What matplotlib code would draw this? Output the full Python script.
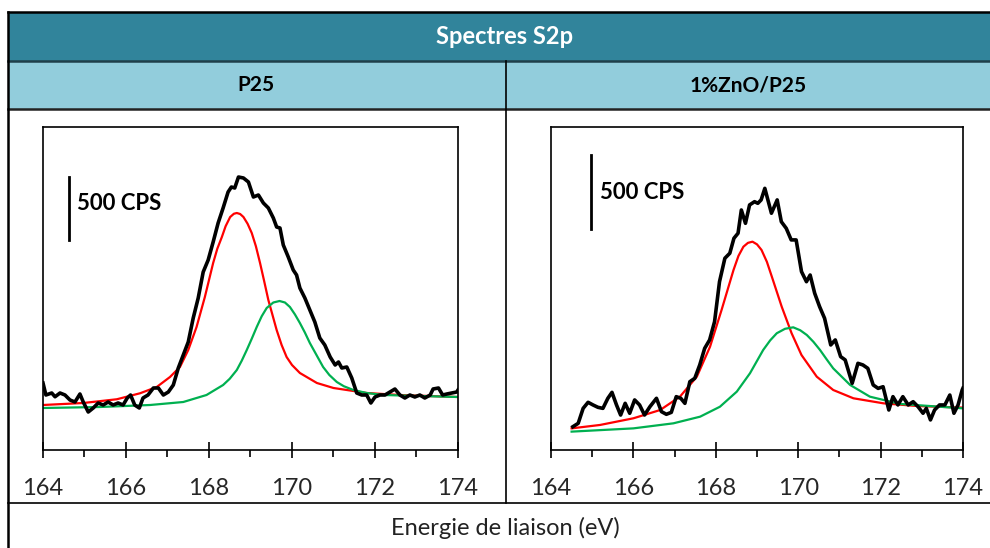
import matplotlib
matplotlib.use("Agg")
import matplotlib.pyplot as plt
from matplotlib.patches import Rectangle
from matplotlib.lines import Line2D

plt.rcParams['font.family'] = ['Lato', 'DejaVu Sans']

# --- donnees (energie en eV, intensite en CPS) ---
title = "Spectres S2p"
panels = ["P25", "1%ZnO/P25"]
xlabel = "Energie de liaison (eV)"
xticks = [164, 166, 168, 170, 172, 174]

# P25 : spectre mesure
p25_ev = [164.0, 164.07, 164.21, 164.29, 164.41, 164.53, 164.65, 164.77, 164.89, 164.97,
          165.09, 165.21, 165.33, 165.45, 165.57, 165.69, 165.81, 165.93, 166.03, 166.11,
          166.21, 166.32, 166.41, 166.53, 166.66, 166.78, 166.90, 167.02, 167.14, 167.26,
          167.38, 167.50, 167.62, 167.74, 167.86, 167.98, 168.10, 168.22, 168.34, 168.46,
          168.54, 168.62, 168.71, 168.83, 168.95, 169.07, 169.19, 169.31, 169.43, 169.55,
          169.63, 169.71, 169.79, 169.91, 170.03, 170.11, 170.19, 170.31, 170.43, 170.55,
          170.67, 170.79, 170.92, 171.04, 171.12, 171.20, 171.32, 171.44, 171.56, 171.68,
          171.80, 171.90, 172.00, 172.12, 172.24, 172.36, 172.48, 172.60, 172.72, 172.84,
          172.96, 173.08, 173.20, 173.33, 173.40, 173.53, 173.63, 173.73, 173.85, 173.97, 174.0]
p25_cps = [536, 440, 456, 426, 456, 440, 400, 384, 448, 384,
           304, 336, 376, 360, 384, 360, 376, 360, 416, 440,
           360, 336, 416, 440, 496, 496, 440, 464, 520, 656,
           760, 864, 1056, 1216, 1424, 1520, 1664, 1816, 1936, 2064,
           2104, 2096, 2184, 2176, 2144, 2024, 2040, 1976, 1936, 1856,
           1784, 1776, 1640, 1544, 1440, 1400, 1296, 1216, 1120, 1024,
           896, 840, 744, 680, 704, 656, 664, 576, 456, 440,
           440, 376, 424, 440, 440, 464, 488, 440, 416, 440,
           424, 440, 416, 440, 488, 496, 440, 448, 456, 464, 480]

# P25 : composante 1 (rouge)
p25_red_ev = [164.0, 164.97, 165.78, 166.34, 166.74, 167.06, 167.30, 167.50, 167.70, 167.90,
              168.10, 168.20, 168.31, 168.40, 168.51, 168.60, 168.67, 168.75, 168.83, 168.93,
              169.03, 169.13, 169.23, 169.33, 169.43, 169.53, 169.63, 169.75, 169.87, 170.0,
              170.19, 170.60, 171.00, 171.80, 172.60, 174.00]
p25_red = [360, 376, 406, 454, 504, 584, 664, 800, 984, 1224,
           1496, 1610, 1704, 1790, 1864, 1890, 1896, 1888, 1864, 1810,
           1736, 1630, 1496, 1350, 1200, 1080, 960, 840, 744, 680,
           616, 536, 496, 456, 440, 424]

# P25 : composante 2 (verte)
p25_green_ev = [164.0, 165.37, 166.58, 167.38, 167.94, 168.34, 168.50, 168.67, 168.79, 168.91,
                169.03, 169.15, 169.27, 169.39, 169.55, 169.70, 169.83, 169.95, 170.07, 170.19,
                170.31, 170.43, 170.59, 170.75, 170.90, 171.08, 171.25, 171.48, 171.80, 172.20, 174.00]
p25_green = [336, 344, 360, 384, 440, 520, 570, 640, 715, 800,
             890, 984, 1070, 1136, 1180, 1192, 1180, 1144, 1085, 1016,
             940, 856, 760, 664, 600, 544, 510, 480, 456, 440, 424]

# 1%ZnO/P25 : spectre mesure
zno_ev = [164.53, 164.66, 164.78, 164.90, 165.02, 165.14, 165.26, 165.38, 165.48, 165.59,
          165.69, 165.80, 165.91, 166.03, 166.15, 166.27, 166.40, 166.56, 166.68, 166.80,
          166.92, 167.04, 167.15, 167.25, 167.37, 167.49, 167.61, 167.73, 167.85, 167.97,
          168.09, 168.22, 168.34, 168.44, 168.54, 168.62, 168.72, 168.82, 168.94, 169.02,
          169.10, 169.19, 169.35, 169.49, 169.59, 169.71, 169.83, 169.95, 170.08, 170.20,
          170.29, 170.40, 170.52, 170.64, 170.79, 170.90, 171.03, 171.14, 171.31, 171.45,
          171.57, 171.69, 171.82, 171.94, 172.06, 172.20, 172.30, 172.42, 172.54, 172.67,
          172.79, 172.91, 173.03, 173.11, 173.21, 173.31, 173.43, 173.56, 173.68, 173.78,
          173.88, 173.98, 174.0]
zno_cps = [157, 180, 281, 322, 304, 288, 281, 349, 389, 304,
           236, 315, 248, 338, 304, 236, 292, 349, 259, 241,
           254, 360, 349, 315, 461, 484, 574, 686, 743, 866,
           1136, 1294, 1328, 1429, 1463, 1620, 1530, 1654, 1676, 1665,
           1688, 1766, 1598, 1688, 1541, 1496, 1418, 1418, 1204, 1136,
           1181, 1058, 967, 889, 709, 743, 630, 608, 450, 585,
           574, 551, 439, 416, 427, 270, 360, 304, 360, 304,
           326, 292, 248, 281, 203, 270, 304, 304, 371, 248,
           304, 405, 418]

# 1%ZnO/P25 : composante 1 (rouge)
zno_red_ev = [164.50, 165.19, 166.00, 166.65, 167.13, 167.54, 167.86, 168.14, 168.43, 168.55,
              168.67, 168.78, 168.89, 169.00, 169.11, 169.24, 169.36, 169.60, 169.84, 170.08,
              170.45, 170.85, 171.34, 172.07, 172.88, 174.00]
zno_red = [146, 169, 214, 270, 360, 495, 697, 945, 1215, 1310,
           1372, 1398, 1406, 1388, 1350, 1270, 1170, 967, 788, 641,
           495, 405, 349, 315, 297, 286]

# 1%ZnO/P25 : composante 2 (verte)
zno_green_ev = [164.50, 166.00, 166.97, 167.62, 168.10, 168.51, 168.83, 169.15, 169.32, 169.48,
                169.68, 169.88, 170.05, 170.21, 170.37, 170.53, 170.69, 170.85, 171.26, 171.74,
                172.47, 174.00]
zno_green = [124, 146, 180, 225, 292, 394, 518, 675, 740, 788,
             818, 828, 808, 776, 730, 675, 612, 551, 439, 360,
             311, 281]

W, H = 990, 548
fig = plt.figure(figsize=(9.9, 5.48), dpi=100)


def fx(px):
    return px / W


def fy(py):
    return 1 - py / H


def hline(x0, x1, y, lw=1.5, color='black'):
    fig.add_artist(Line2D([fx(x0), fx(x1)], [fy(y), fy(y)], transform=fig.transFigure,
                          color=color, lw=lw))


def vline(x, y0, y1, lw=1.5, color='black'):
    fig.add_artist(Line2D([fx(x), fx(x)], [fy(y0), fy(y1)], transform=fig.transFigure,
                          color=color, lw=lw))


# bandeaux du tableau
fig.add_artist(Rectangle((fx(8), fy(61)), 1 - fx(8), (61 - 12) / H, transform=fig.transFigure,
                         facecolor='#31849B', edgecolor='none'))
fig.add_artist(Rectangle((fx(8), fy(109)), 1 - fx(8), (109 - 61) / H, transform=fig.transFigure,
                         facecolor='#92CDDC', edgecolor='none'))
hline(8, 990, 12, lw=1.8)
hline(8, 990, 61, lw=1.8, color='#1F3F4A')
hline(8, 990, 109, lw=1.8, color='#222222')
hline(8, 990, 503, lw=1.2)
vline(8, 12, 548, lw=1.8)
vline(505.7, 61, 503, lw=1.2)

fig.text(fx(505), fy(37), title, color='white', fontsize=17, fontweight='bold',
         ha='center', va='center')
fig.text(fx(256), fy(85), panels[0], color='black', fontsize=15, fontweight='bold',
         ha='center', va='center')
fig.text(fx(748), fy(85), panels[1], color='black', fontsize=15, fontweight='bold',
         ha='center', va='center')
fig.text(fx(505), fy(528), xlabel, color='#222222', fontsize=17, ha='center', va='center')


def panel(rect, ev, cps, red_ev, red, green_ev, green, ymax, bar_x, bar_y, txt_x, txt_y):
    ax = fig.add_axes(rect)
    ax.plot(red_ev, red, color='#FF0000', lw=1.6, zorder=2)
    ax.plot(green_ev, green, color='#00B050', lw=1.6, zorder=2)
    ax.plot(ev, cps, color='black', lw=2.6, solid_joinstyle='round', zorder=3)
    # barre d'echelle 500 CPS
    ax.plot([bar_x, bar_x], [bar_y, bar_y + 500], color='black', lw=2.0)
    ax.text(txt_x, txt_y, "500 CPS", fontsize=16, fontweight='bold', ha='left', va='center')
    ax.set_xlim(164, 174)
    ax.set_ylim(0, ymax)
    ax.set_xticks(xticks)
    ax.set_xticks(range(165, 174, 2), minor=True)
    ax.set_yticks([])
    ax.tick_params(axis='x', which='major', direction='inout', length=12, width=1.2,
                   labelsize=17, pad=14, labelcolor='#262626')
    ax.tick_params(axis='x', which='minor', direction='out', length=5, width=1.2)
    for s in ax.spines.values():
        s.set_linewidth(1.2)
    return ax


panel([fx(43), fy(450), 415 / W, 323 / H], p25_ev, p25_cps, p25_red_ev, p25_red,
      p25_green_ev, p25_green, 2584, 164.62, 1684, 164.82, 1976)
panel([fx(551), fy(450), 412 / W, 323 / H], zno_ev, zno_cps, zno_red_ev, zno_red,
      zno_green_ev, zno_green, 2180, 164.96, 1492, 165.19, 1735)

fig.savefig('out.png', dpi=100)
